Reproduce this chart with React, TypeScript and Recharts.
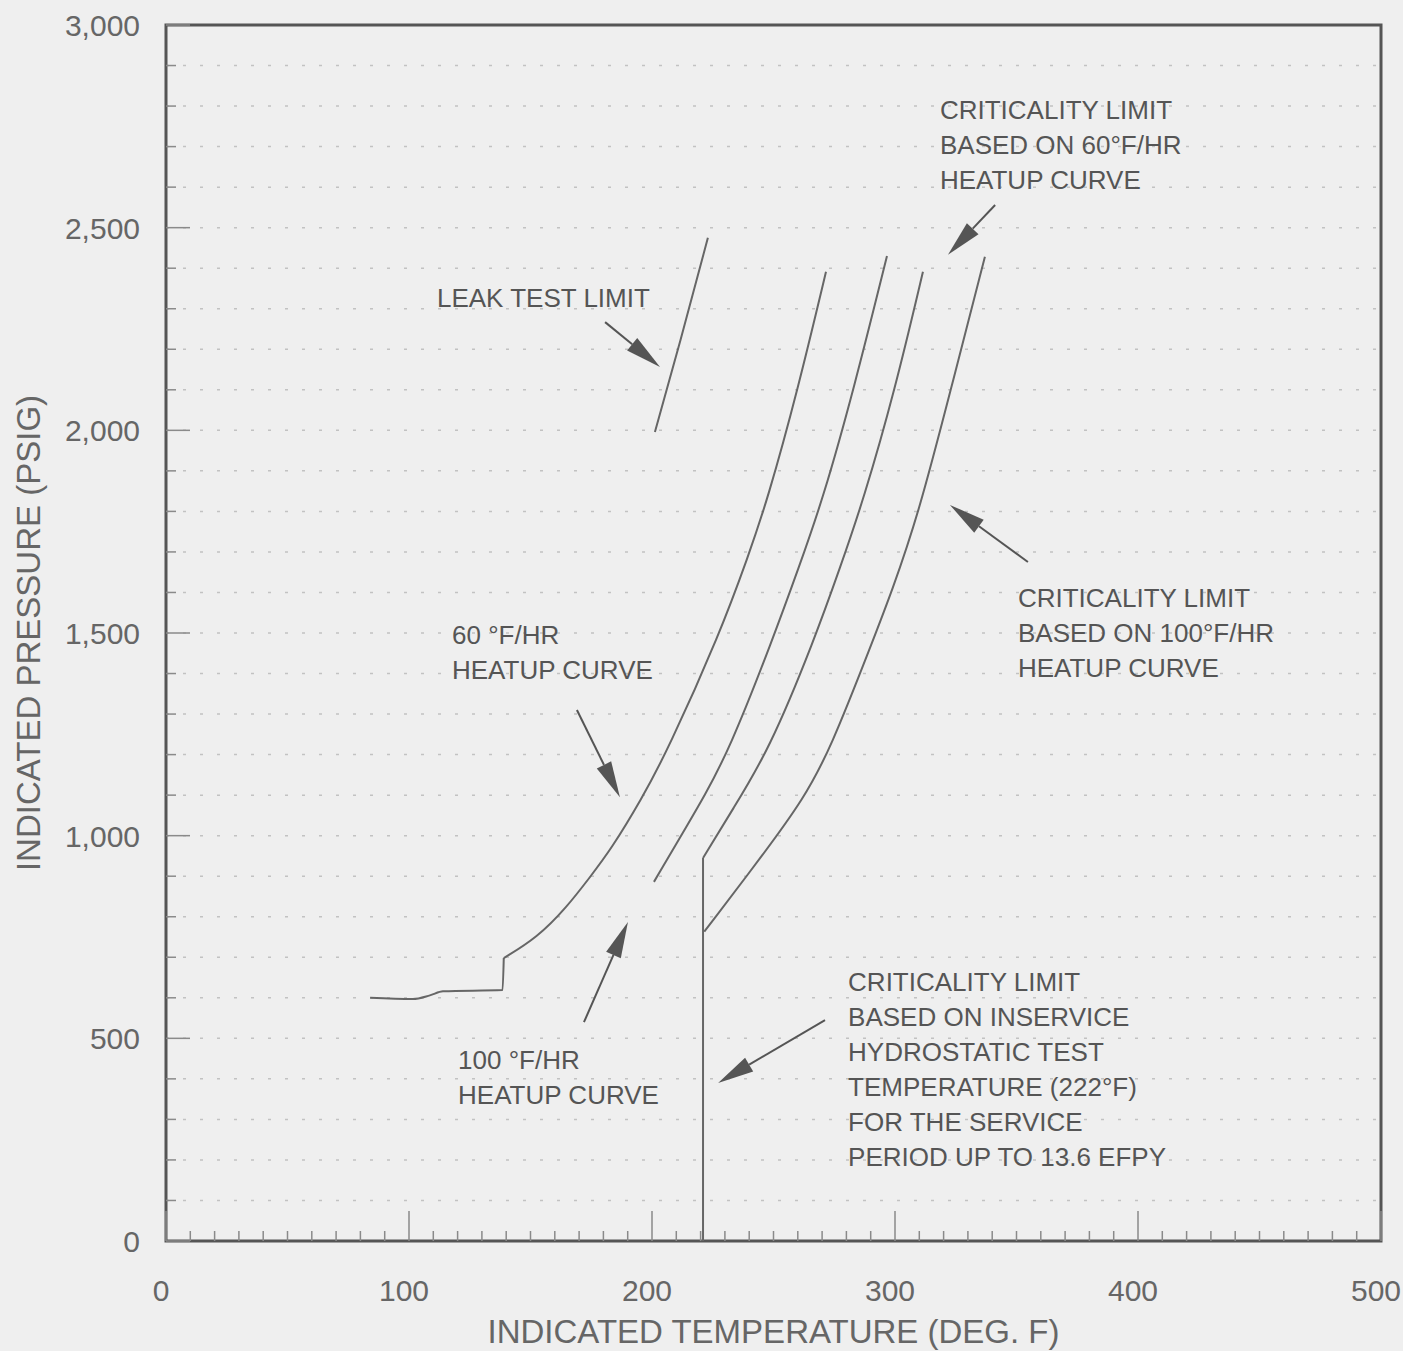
import React from 'react'
import {
  LineChart,
  Line,
  XAxis,
  YAxis,
  CartesianGrid,
  ReferenceArea,
  ReferenceLine,
  ReferenceDot,
} from 'recharts'

// temperature (deg F), pressure (psig) pairs
const heatup60Plateau: [number, number][] = [
  [84, 600], [101.6, 597], [108.6, 606], [114, 616], [138.5, 619], [139, 698],
]
const heatup60: [number, number][] = [
  [139, 698], [152.7, 748], [165, 824], [174.5, 898], [183, 965], [195.5, 1088],
  [206.5, 1211], [228, 1500], [239.5, 1688], [247.5, 1828], [260, 2100], [271.6, 2391],
]
const heatup100: [number, number][] = [
  [200.8, 886], [216.5, 1046], [220.6, 1088], [231.8, 1211], [249.6, 1483],
  [260.5, 1663], [270.2, 1828], [283, 2100], [296.7, 2430],
]
const hydroLimit: [number, number][] = [
  [221, 0], [221, 945],
]
const crit60: [number, number][] = [
  [221, 945], [233, 1063], [248.2, 1211], [266.8, 1483], [277.5, 1663],
  [287, 1828], [300, 2100], [311.5, 2391],
]
const crit100: [number, number][] = [
  [221.5, 763], [247.2, 965], [262, 1088], [273.3, 1211], [291, 1483],
  [298.5, 1599], [309.8, 1796], [322.6, 2092], [337, 2428],
]
const leakTest: [number, number][] = [
  [201.2, 1996], [211.5, 2216], [223, 2475],
]

const tempTicks = Array.from({ length: 51 }, (_, i) => i * 10)
const pressureTicks = Array.from({ length: 31 }, (_, i) => i * 100)

const notes = [
  { t: 318.5, p: 2790, lines: ['CRITICALITY LIMIT', 'BASED ON 60°F/HR', 'HEATUP CURVE'] },
  { t: 111.5, p: 2327, lines: ['LEAK TEST LIMIT'] },
  { t: 350.6, p: 1586, lines: ['CRITICALITY LIMIT', 'BASED ON 100°F/HR', 'HEATUP CURVE'] },
  { t: 117.7, p: 1495, lines: ['60 °F/HR', 'HEATUP CURVE'] },
  { t: 120.2, p: 447, lines: ['100 °F/HR', 'HEATUP CURVE'] },
  {
    t: 280.7,
    p: 639,
    lines: [
      'CRITICALITY LIMIT',
      'BASED ON INSERVICE',
      'HYDROSTATIC TEST',
      'TEMPERATURE (222°F)',
      'FOR THE SERVICE',
      'PERIOD UP TO 13.6 EFPY',
    ],
  },
]

const arrows: { from: [number, number]; to: [number, number] }[] = [
  { from: [341.2, 2556], to: [321.8, 2433] },
  { from: [180.7, 2267], to: [203.3, 2156] },
  { from: [354.7, 1675], to: [322.6, 1816] },
  { from: [169.1, 1310], to: [186.8, 1095] },
  { from: [172, 540], to: [190.1, 787] },
  { from: [271.2, 545], to: [227.2, 390] },
]

const FONT = "'Liberation Sans', Arial, sans-serif"
const INK = '#666'

const toPoints = (pts: [number, number][]) => pts.map(([t, p]) => ({ t, p }))

const TempTick = (props: any) => {
  const { x, y, payload } = props
  const v = payload.value
  const major = v % 100 === 0
  return (
    <g>
      <line x1={x} x2={x} y1={y} y2={y - (major ? 30 : 10)} stroke="#8a8a8a" strokeWidth={1.5} />
      {major && (
        <text x={x - 5} y={y + 60} textAnchor="middle" fill={INK} fontSize={30} fontFamily={FONT}>
          {v}
        </text>
      )}
    </g>
  )
}

const PressureTick = (props: any) => {
  const { x, y, payload } = props
  const v = payload.value
  const major = v % 500 === 0
  return (
    <g>
      <line x1={x} x2={x + (major ? 24 : 10)} y1={y} y2={y} stroke="#8a8a8a" strokeWidth={1.5} />
      {major && (
        <text x={x - 26} y={y + 11} textAnchor="end" fill={INK} fontSize={30} fontFamily={FONT}>
          {v.toLocaleString('en-US')}
        </text>
      )}
    </g>
  )
}

const ArrowShape = (props: any) => {
  const { x1, y1, x2, y2 } = props
  const dx = x2 - x1
  const dy = y2 - y1
  const len = Math.sqrt(dx * dx + dy * dy)
  const ux = dx / len
  const uy = dy / len
  const head = 36
  const half = 8
  const bx = x2 - ux * head
  const by = y2 - uy * head
  return (
    <g>
      <line x1={x1} y1={y1} x2={bx} y2={by} stroke="#555" strokeWidth={2} />
      <polygon
        points={`${x2},${y2} ${bx - uy * half},${by + ux * half} ${bx + uy * half},${by - ux * half}`}
        fill="#555"
      />
    </g>
  )
}

const noteShape = (lines: string[]) => (props: any) => {
  const { cx, cy } = props
  return (
    <text x={cx} y={cy} fill="#555" fontSize={26} fontFamily={FONT}>
      {lines.map((l, i) => (
        <tspan key={i} x={cx} y={cy + 9 + i * 35}>
          {l}
        </tspan>
      ))}
    </text>
  )
}

const smoothSeries = [heatup60, heatup100, crit60, crit100, leakTest]

export default function App() {
  return (
    <div
      style={{
        position: 'absolute',
        left: 0,
        top: 0,
        width: 1403,
        height: 1351,
        background: '#efefef',
      }}
    >
      <LineChart width={1403} height={1351} margin={{ top: 25, right: 22, bottom: 0, left: 0 }}>
        <CartesianGrid
          vertical={false}
          stroke="#c2c2c2"
          strokeWidth={1.5}
          strokeDasharray="3 14"
        />
        <XAxis
          dataKey="t"
          type="number"
          domain={[0, 500]}
          ticks={tempTicks}
          interval={0}
          height={110}
          axisLine={false}
          tickLine={false}
          tickSize={0}
          tickMargin={0}
          tick={<TempTick />}
          label={{
            value: 'INDICATED TEMPERATURE (DEG. F)',
            position: 'insideBottom',
            offset: 8,
            fill: INK,
            fontSize: 33,
            fontFamily: FONT,
          }}
        />
        <YAxis
          dataKey="p"
          type="number"
          domain={[0, 3000]}
          ticks={pressureTicks}
          interval={0}
          width={166}
          axisLine={false}
          tickLine={false}
          tickSize={0}
          tickMargin={0}
          tick={<PressureTick />}
          label={{
            value: 'INDICATED PRESSURE (PSIG)',
            angle: -90,
            position: 'insideLeft',
            dx: 23,
            style: { textAnchor: 'middle' },
            fill: INK,
            fontSize: 33,
            fontFamily: FONT,
          }}
        />
        <ReferenceArea
          x1={0}
          x2={500}
          y1={0}
          y2={3000}
          fill="none"
          fillOpacity={0}
          stroke="#555"
          strokeWidth={3}
        />
        <Line
          data={toPoints(hydroLimit)}
          dataKey="p"
          type="linear"
          stroke="#666"
          strokeWidth={2}
          dot={false}
          isAnimationActive={false}
        />
        <Line
          data={toPoints(heatup60Plateau)}
          dataKey="p"
          type="monotoneX"
          stroke="#666"
          strokeWidth={2}
          dot={false}
          isAnimationActive={false}
        />
        {smoothSeries.map((s, i) => (
          <Line
            key={i}
            data={toPoints(s)}
            dataKey="p"
            type="basis"
            stroke="#666"
            strokeWidth={2}
            dot={false}
            isAnimationActive={false}
          />
        ))}
        {arrows.map((a, i) => (
          <ReferenceLine
            key={'a' + i}
            segment={[
              { x: a.from[0], y: a.from[1] },
              { x: a.to[0], y: a.to[1] },
            ]}
            shape={ArrowShape}
          />
        ))}
        {notes.map((n, i) => (
          <ReferenceDot key={'n' + i} x={n.t} y={n.p} r={0} shape={noteShape(n.lines)} />
        ))}
      </LineChart>
    </div>
  )
}
